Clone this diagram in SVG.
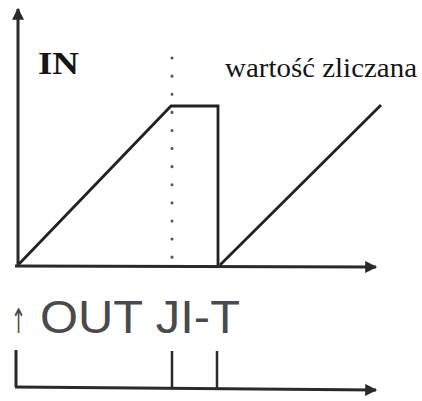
<svg xmlns="http://www.w3.org/2000/svg" width="422" height="401" viewBox="0 0 422 401">
<defs>
<style>
.ax{stroke:#2a2a2a;stroke-width:3;fill:none}
.ln{stroke:#222;stroke-width:2.8;fill:none;stroke-linejoin:miter}
.dot{stroke:#555;stroke-width:3;stroke-linecap:round;stroke-dasharray:0.1 18;fill:none}
.serif{font-family:"Liberation Serif","Times New Roman",serif;fill:#151515}
.sans{font-family:"Liberation Sans",Arial,sans-serif;fill:#4a4a4a}
.arr{font-family:"DejaVu Sans",sans-serif}
</style>
<marker id="ah" viewBox="0 0 10 10" refX="9" refY="5" markerWidth="5" markerHeight="4" markerUnits="strokeWidth" orient="auto">
<path d="M0,0 L10,5 L0,10 z" fill="#2a2a2a"/>
</marker>
</defs>
<rect width="422" height="401" fill="#fff"/>
<g id="connectors">
<line class="ax" x1="18" y1="267" x2="18" y2="9" marker-end="url(#ah)"/>
<line class="ax" x1="15" y1="266" x2="376" y2="267" marker-end="url(#ah)"/>
<line class="dot" x1="172" y1="58" x2="172" y2="262"/>
<polyline class="ln" points="19,264 171,106 218,106 218,266"/>
<line class="ln" x1="220" y1="265" x2="381" y2="105"/>
<line class="ax" x1="16" y1="350" x2="16" y2="387"/>
<line class="ax" x1="15" y1="387" x2="376" y2="390" marker-end="url(#ah)"/>
<line class="ax" x1="172" y1="351" x2="172" y2="388" style="stroke-width:2.5"/>
<line class="ax" x1="217" y1="351" x2="217" y2="389" style="stroke-width:2.5"/>
</g>
<g id="label-in"><text class="serif" x="38" y="74" font-size="32" font-weight="bold" textLength="41" lengthAdjust="spacingAndGlyphs">IN</text></g>
<g id="label-count"><text class="serif" x="225" y="77" font-size="28" textLength="192" lengthAdjust="spacingAndGlyphs">wartość zliczana</text></g>
<g id="label-out">
<text class="sans" y="333" font-size="46"><tspan class="arr" x="11" font-size="34" textLength="15" lengthAdjust="spacingAndGlyphs">↑</tspan><tspan x="40" textLength="200" lengthAdjust="spacingAndGlyphs">OUT JI-T</tspan></text>
</g>
</svg>
